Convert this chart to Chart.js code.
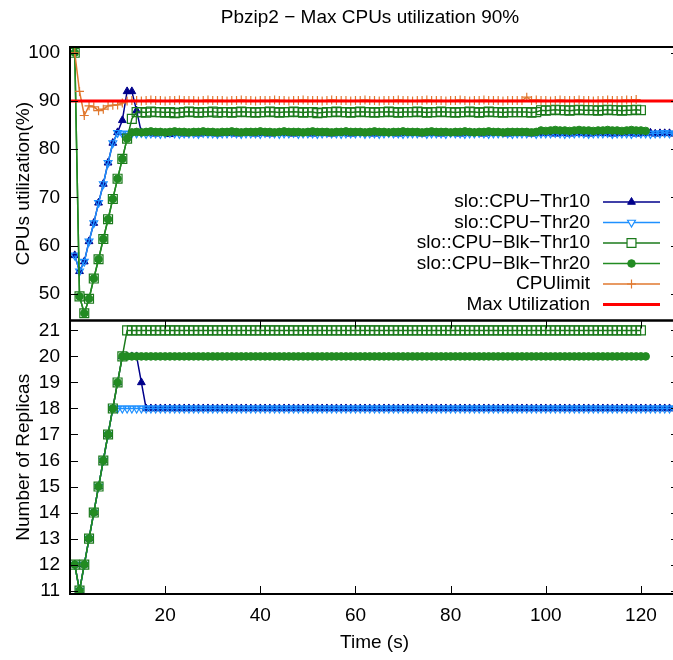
<!DOCTYPE html>
<html>
<head>
<meta charset="UTF-8">
<title>Pbzip2 - Max CPUs utilization 90%</title>
<script src="https://cdn.jsdelivr.net/npm/chart.js@4"></script>
<style>
  html, body { margin: 0; padding: 0; background: #fff; overflow: hidden; }
  #wrap { width: 690px; height: 660px; }
</style>
</head>
<body>
<div id="wrap"><canvas id="chart" width="690" height="660"></canvas></div>
<script>
// time axis (s)
const time = [
  1, 2, 3, 4, 5, 6, 7, 8, 9, 10, 11, 12, 13, 14, 15, 16, 17, 18, 19, 20,
  21, 22, 23, 24, 25, 26, 27, 28, 29, 30, 31, 32, 33, 34, 35, 36, 37, 38, 39, 40,
  41, 42, 43, 44, 45, 46, 47, 48, 49, 50, 51, 52, 53, 54, 55, 56, 57, 58, 59, 60,
  61, 62, 63, 64, 65, 66, 67, 68, 69, 70, 71, 72, 73, 74, 75, 76, 77, 78, 79, 80,
  81, 82, 83, 84, 85, 86, 87, 88, 89, 90, 91, 92, 93, 94, 95, 96, 97, 98, 99, 100,
  101, 102, 103, 104, 105, 106, 107, 108, 109, 110, 111, 112, 113, 114, 115, 116, 117, 118, 119, 120,
  121, 122, 123, 124, 125, 126, 127, 128
];
const timeRange = [0, 128];
const timeTicks = [20, 40, 60, 80, 100, 120];
const cpuRange = [44.5, 101.2];
const cpuTicks = [50, 60, 70, 80, 90, 100];
const repRange = [10.87, 21.38];
const repTicks = [11, 12, 13, 14, 15, 16, 17, 18, 19, 20, 21];
const maxUtilization = 90;

// top panel: CPUs utilization (%)
const cpuThr10 = [
  58, 54.7, 56.7, 60.9, 64.7, 68.9, 72.8, 77.2, 81.3, 83.5,
  86, 92, 92, 88, 83.5, 83.3,
  83.3, 83.2, 83.4, 83.3, 83.1, 83.3, 83.4, 83.2, 83.3, 83.3,
  83.2, 83.4, 83.3, 83.3, 83.2, 83.3, 83.4, 83.3, 83.2, 83.3,
  83.3, 83.4, 83.2, 83.3, 83.3, 83.2, 83.3, 83.4, 83.3, 83.3,
  83.2, 83.3, 83.3, 83.4, 83.2, 83.3, 83.3, 83.3, 83.2, 83.4,
  83.3, 83.3, 83.2, 83.3, 83.4, 83.3, 83.3, 83.2, 83.3, 83.3,
  83.4, 83.3, 83.2, 83.3, 83.3, 83.3, 83.4, 83.2, 83.3, 83.3,
  83.3, 83.2, 83.4, 83.3, 83.3, 83.2, 83.3, 83.3, 83.4, 83.3,
  83.2, 83.3, 83.3, 83.4, 83.3, 83.2, 83.3, 83.3, 83.3, 83.4,
  83.2, 83.3, 83.3, 83.3, 83.4, 83.2, 83.3, 83.3, 83.2, 83.4,
  83.3, 83.3, 83.2, 83.3, 83.4, 83.3, 83.3, 83.2, 83.3, 83.3,
  83.4, 83.3, 83.2, 83.3, 83.3, 83.4, 83.2, 83.3, 83.3, 83.3,
  83.2, 83.3
];
const cpuThr20 = [
  58, 54.7, 56.7, 60.9, 64.7, 68.9, 72.8, 77.2, 81.3, 83.4,
  83.3, 83.2, 83.3, 83.3, 83.4, 83.2, 83.3, 83.3, 83.2, 83.3,
  83.4, 83.3, 83.2, 83.3, 83.3, 83.3, 83.2, 83.4, 83.3, 83.3,
  83.2, 83.3, 83.3, 83.4, 83.3, 83.2, 83.3, 83.3, 83.3, 83.2,
  83.4, 83.3, 83.3, 83.2, 83.3, 83.3, 83.4, 83.2, 83.3, 83.3,
  83.3, 83.2, 83.3, 83.4, 83.3, 83.3, 83.2, 83.3, 83.3, 83.3,
  83.4, 83.2, 83.3, 83.3, 83.2, 83.3, 83.4, 83.3, 83.3, 83.2,
  83.3, 83.3, 83.3, 83.4, 83.2, 83.3, 83.3, 83.3, 83.2, 83.4,
  83.3, 83.3, 83.2, 83.3, 83.3, 83.4, 83.3, 83.2, 83.3, 83.3,
  83.4, 83.3, 83.2, 83.3, 83.3, 83.3, 83.4, 83.2, 83.3, 83.3,
  83.3, 83.4, 83.3, 83.2, 83.3, 83.3, 83.4, 83.3, 83.2, 83.3,
  83.3, 83.3, 83.4, 83.2, 83.3, 83.3, 83.3, 83.2, 83.4, 83.3,
  83.3, 83.2, 83.3, 83.3, 83.4, 83.3, 83.3, 83.2
];
const cpuBlkThr10 = [
  100, 49.5, 46, 49, 53.2, 57.2, 61.4, 65.5, 69.7, 73.9,
  78, 82.2, 86.3, 87.7,
  87.7, 87.6, 87.8, 87.7, 87.7, 87.6, 87.7, 87.5, 87.6, 87.7,
  87.8, 87.7, 87.6, 87.7, 87.7, 87.8, 87.6, 87.7, 87.7, 87.6,
  87.7, 87.8, 87.7, 87.7, 87.6, 87.7, 87.7, 87.8, 87.7, 87.6,
  87.7, 87.7, 87.8, 87.7, 87.6, 87.7, 87.7, 87.5, 87.6, 87.7,
  87.7, 87.8, 87.7, 87.7, 87.6, 87.7, 87.8, 87.7, 87.7, 87.6,
  87.7, 87.7, 87.8, 87.7, 87.6, 87.7, 87.7, 87.7, 87.8, 87.7,
  87.6, 87.7, 87.7, 87.8, 87.7, 87.7, 87.6, 87.7, 87.7, 87.8,
  87.7, 87.6, 87.7, 87.8, 87.7, 87.7, 87.6, 87.7, 87.7, 87.7,
  87.7, 87.7, 87.6, 87.7,
  88.1, 88.0, 88.1, 88.2, 88.1, 88.1, 88.0, 88.1, 88.2, 88.1,
  88.1, 88.1, 88.0, 88.1, 88.2, 88.1, 88.1, 88.0, 88.1, 88.1,
  88.2, 88.1
];
const cpuBlkThr20 = [
  100, 49.5, 46, 49, 53.2, 57.2, 61.4, 65.5, 69.7, 73.9,
  78, 82.2, 83.5,
  83.6, 83.5, 83.6, 83.7, 83.6, 83.6, 83.5, 83.6, 83.7, 83.6,
  83.6, 83.5, 83.6, 83.6, 83.7, 83.6, 83.6, 83.5, 83.6, 83.6,
  83.7, 83.6, 83.5, 83.6, 83.6, 83.6, 83.7, 83.6, 83.6, 83.5,
  83.6, 83.7, 83.6, 83.6, 83.6, 83.5, 83.6, 83.7, 83.6, 83.6,
  83.6, 83.5, 83.6, 83.6, 83.7, 83.6, 83.6, 83.6, 83.5, 83.6,
  83.7, 83.6, 83.6, 83.5, 83.6, 83.6, 83.7, 83.6, 83.6, 83.6,
  83.5, 83.6, 83.7, 83.6, 83.6, 83.6, 83.5, 83.6, 83.6, 83.7,
  83.6, 83.5, 83.6, 83.6, 83.7, 83.6, 83.6, 83.5, 83.6, 83.6,
  83.6, 83.6, 83.6, 83.5, 83.6,
  83.9, 83.8, 83.9, 84.0, 83.9, 83.9, 83.8, 83.9, 84.0, 83.9,
  83.9, 83.8, 83.9, 83.9, 84.0, 83.9, 83.9, 83.8, 83.9, 84.0,
  83.9, 83.9, 83.8
];
const cpuLimit = [
  100, 92, 87, 89, 88.8, 88, 88.3, 89, 89.1, 89.2,
  89.6, 90,
  90.1, 90.1, 90.0, 90.1, 90.2, 90.1, 90.1, 90.0, 90.1, 90.1,
  90.2, 90.1, 90.1, 90.1, 90.0, 90.1, 90.2, 90.1, 90.1, 90.1,
  90.0, 90.1, 90.1, 90.2, 90.1, 90.1, 90.0, 90.1, 90.1, 90.1,
  90.2, 90.1, 90.1, 90.0, 90.1, 90.1, 90.2, 90.1, 90.1, 90.1,
  90.0, 90.1, 90.2, 90.1, 90.1, 90.1, 90.0, 90.1, 90.1, 90.2,
  90.1, 90.1, 90.0, 90.1, 90.1, 90.1, 90.2, 90.1, 90.1, 90.0,
  90.1, 90.1, 90.2, 90.1, 90.1, 90.1, 90.0, 90.1, 90.1, 90.2,
  90.1, 90.0, 90.1, 90.1, 90.2, 90.1, 90.1, 90.1, 90.0, 90.1,
  90.1, 90.1, 90.1,
  90.8,
  90.1, 90.2, 90.1, 90.1, 90.0, 90.1, 90.2, 90.1, 90.1, 90.1,
  90.2, 90.1, 90.1, 90.0, 90.1, 90.1, 90.2, 90.1, 90.1, 90.1,
  90.2, 90.1, 90.3
];

// bottom panel: number of replicas
const repThr10 = [
  12, 11, 12, 13, 14, 15, 16, 17, 18, 19, 20, 20, 20, 20, 19,
  18, 18, 18, 18, 18, 18, 18, 18, 18, 18, 18, 18, 18, 18, 18, 18, 18, 18, 18, 18,
  18, 18, 18, 18, 18, 18, 18, 18, 18, 18, 18, 18, 18, 18, 18, 18, 18, 18, 18, 18,
  18, 18, 18, 18, 18, 18, 18, 18, 18, 18, 18, 18, 18, 18, 18, 18, 18, 18, 18, 18,
  18, 18, 18, 18, 18, 18, 18, 18, 18, 18, 18, 18, 18, 18, 18, 18, 18, 18, 18, 18,
  18, 18, 18, 18, 18, 18, 18, 18, 18, 18, 18, 18, 18, 18, 18, 18, 18, 18, 18, 18,
  18, 18, 18, 18, 18, 18, 18, 18, 18, 18, 18, 18, 18
];
const repThr20 = [
  12, 11, 12, 13, 14, 15, 16, 17, 18,
  18, 18, 18, 18, 18, 18, 18, 18, 18, 18, 18, 18, 18, 18, 18, 18, 18, 18, 18, 18,
  18, 18, 18, 18, 18, 18, 18, 18, 18, 18, 18, 18, 18, 18, 18, 18, 18, 18, 18, 18,
  18, 18, 18, 18, 18, 18, 18, 18, 18, 18, 18, 18, 18, 18, 18, 18, 18, 18, 18, 18,
  18, 18, 18, 18, 18, 18, 18, 18, 18, 18, 18, 18, 18, 18, 18, 18, 18, 18, 18, 18,
  18, 18, 18, 18, 18, 18, 18, 18, 18, 18, 18, 18, 18, 18, 18, 18, 18, 18, 18, 18,
  18, 18, 18, 18, 18, 18, 18, 18, 18, 18, 18, 18, 18, 18, 18, 18, 18, 18, 18
];
const repBlkThr10 = [
  12, 11, 12, 13, 14, 15, 16, 17, 18, 19, 20,
  21, 21, 21, 21, 21, 21, 21, 21, 21, 21, 21, 21, 21, 21, 21, 21, 21, 21, 21, 21,
  21, 21, 21, 21, 21, 21, 21, 21, 21, 21, 21, 21, 21, 21, 21, 21, 21, 21, 21, 21,
  21, 21, 21, 21, 21, 21, 21, 21, 21, 21, 21, 21, 21, 21, 21, 21, 21, 21, 21, 21,
  21, 21, 21, 21, 21, 21, 21, 21, 21, 21, 21, 21, 21, 21, 21, 21, 21, 21, 21, 21,
  21, 21, 21, 21, 21, 21, 21, 21, 21, 21, 21, 21, 21, 21, 21, 21, 21, 21, 21, 21,
  21, 21, 21, 21, 21, 21, 21, 21, 21
];
const repBlkThr20 = [
  12, 11, 12, 13, 14, 15, 16, 17, 18, 19,
  20, 20, 20, 20, 20, 20, 20, 20, 20, 20, 20, 20, 20, 20, 20, 20, 20, 20, 20, 20,
  20, 20, 20, 20, 20, 20, 20, 20, 20, 20, 20, 20, 20, 20, 20, 20, 20, 20, 20, 20,
  20, 20, 20, 20, 20, 20, 20, 20, 20, 20, 20, 20, 20, 20, 20, 20, 20, 20, 20, 20,
  20, 20, 20, 20, 20, 20, 20, 20, 20, 20, 20, 20, 20, 20, 20, 20, 20, 20, 20, 20,
  20, 20, 20, 20, 20, 20, 20, 20, 20, 20, 20, 20, 20, 20, 20, 20, 20, 20, 20, 20,
  20, 20, 20, 20, 20, 20, 20, 20, 20, 20, 20
];

const FONT = '"Liberation Sans", Arial, Helvetica, sans-serif';
Chart.defaults.font.family = FONT;
Chart.defaults.font.size = 19;
Chart.defaults.color = '#000';

const DARKBLUE = '#00008b';
const LIGHTBLUE = '#1e90ff';
const GREEN1 = '#1b7a1b';
const GREEN2 = '#228b22';
const ORANGE = '#e0782f';
const RED = '#ff0000';
const NONE = 'rgba(0,0,0,0)';

// one style per series, used on both panels
const styles = [
  { label: 'slo::CPU\u2212Thr10', borderColor: DARKBLUE, borderWidth: 1.5, pointStyle: 'triangle', pointRadius: 4.5, pointBackgroundColor: DARKBLUE, pointBorderColor: DARKBLUE, pointBorderWidth: 1, order: 6 },
  { label: 'slo::CPU\u2212Thr20', borderColor: LIGHTBLUE, borderWidth: 1.5, pointStyle: 'triangle', pointRotation: 180, pointRadius: 4.5, pointBackgroundColor: NONE, pointBorderColor: LIGHTBLUE, pointBorderWidth: 1.2, order: 5 },
  { label: 'slo::CPU\u2212Blk\u2212Thr10', borderColor: GREEN1, borderWidth: 1.5, pointStyle: 'rect', pointRadius: 6.3, pointBackgroundColor: NONE, pointBorderColor: GREEN1, pointBorderWidth: 1.2, order: 4 },
  { label: 'slo::CPU\u2212Blk\u2212Thr20', borderColor: GREEN2, borderWidth: 1.5, pointStyle: 'circle', pointRadius: 3.8, pointBackgroundColor: GREEN2, pointBorderColor: GREEN2, pointBorderWidth: 1, order: 3 },
  { label: 'CPUlimit', borderColor: ORANGE, borderWidth: 1.5, pointStyle: 'cross', pointRadius: 4.5, pointBackgroundColor: ORANGE, pointBorderColor: ORANGE, pointBorderWidth: 1.2, order: 2 },
  { label: 'Max Utilization', borderColor: RED, borderWidth: 3, pointRadius: 0, order: 1 }
];

const cpuSeries = [cpuThr10, cpuThr20, cpuBlkThr10, cpuBlkThr20, cpuLimit];
const repSeries = [repThr10, repThr20, repBlkThr10, repBlkThr20];

const datasets = [];
cpuSeries.forEach((vals, i) => {
  datasets.push(Object.assign({}, styles[i], { data: vals, yAxisID: 'yCpu', tension: 0, fill: false }));
});
datasets.push(Object.assign({}, styles[5], {
  data: [{ x: timeRange[0], y: maxUtilization }, { x: timeRange[1], y: maxUtilization }],
  yAxisID: 'yCpu', tension: 0, fill: false
}));
repSeries.forEach((vals, i) => {
  datasets.push(Object.assign({}, styles[i], { data: vals, yAxisID: 'yRep', tension: 0, fill: false }));
});

const frames = {
  id: 'frames',
  afterDatasetsDraw(chart) {
    const { ctx, scales: { x, yCpu, yRep } } = chart;
    const tick = 8;
    ctx.save();
    ctx.strokeStyle = '#000';
    ctx.lineWidth = 1;
    ctx.beginPath();
    [[yCpu, cpuTicks], [yRep, repTicks]].forEach(([s, list]) => {
      list.forEach(v => {
        const py = Math.round(s.getPixelForValue(v)) + 0.5;
        ctx.moveTo(x.left, py); ctx.lineTo(x.left + tick, py);
        ctx.moveTo(x.right, py); ctx.lineTo(x.right - tick, py);
      });
    });
    timeTicks.forEach(v => {
      const px = Math.round(x.getPixelForValue(v)) + 0.5;
      ctx.moveTo(px, yRep.bottom); ctx.lineTo(px, yRep.bottom - tick);
      ctx.moveTo(px, yRep.top); ctx.lineTo(px, yRep.top + tick);
    });
    ctx.stroke();
    ctx.lineWidth = 2;
    ctx.strokeRect(x.left, yCpu.top, x.right - x.left, yCpu.bottom - yCpu.top);
    ctx.strokeRect(x.left, yRep.top, x.right - x.left, yRep.bottom - yRep.top);
    ctx.restore();
  },
  afterDraw(chart) {
    const { ctx, scales: { x } } = chart;
    ctx.save();
    // title
    ctx.fillStyle = '#000';
    ctx.font = '19px ' + FONT;
    ctx.textAlign = 'center';
    ctx.textBaseline = 'middle';
    ctx.fillText('Pbzip2 \u2212 Max CPUs utilization 90%', 370, 18);
    // key
    const textRight = x.right - 89;
    const lineL = x.right - 76, lineR = x.right - 19;
    chart.data.datasets.slice(0, 6).forEach((ds, i) => {
      const y = 202 + i * 20.5;
      ctx.fillStyle = '#000';
      ctx.textAlign = 'right';
      ctx.fillText(ds.label, textRight, y);
      ctx.strokeStyle = ds.borderColor;
      ctx.lineWidth = ds.borderWidth;
      ctx.beginPath();
      ctx.moveTo(lineL, y); ctx.lineTo(lineR, y);
      ctx.stroke();
      if (ds.pointRadius > 0) {
        ctx.fillStyle = ds.pointBackgroundColor === NONE ? '#fff' : ds.pointBackgroundColor;
        ctx.strokeStyle = ds.pointBorderColor;
        ctx.lineWidth = ds.pointBorderWidth;
        Chart.helpers.drawPoint(ctx, {
          pointStyle: ds.pointStyle, rotation: ds.pointRotation || 0,
          radius: ds.pointRadius, borderWidth: ds.pointBorderWidth
        }, (lineL + lineR) / 2, y);
      }
    });
    ctx.restore();
  }
};

const setTicks = list => scale => { scale.ticks = list.map(v => ({ value: v })); };

new Chart(document.getElementById('chart'), {
  type: 'line',
  data: { labels: time, datasets: datasets },
  options: {
    responsive: false,
    animation: false,
    layout: { padding: { top: 47, right: 11, left: 0, bottom: 0 } },
    plugins: { legend: { display: false }, tooltip: { enabled: false }, title: { display: false } },
    scales: {
      x: {
        type: 'linear', min: timeRange[0], max: timeRange[1],
        afterBuildTicks: setTicks(timeTicks),
        afterFit: s => { s.height = 66; },
        grid: { display: false, drawTicks: false }, border: { display: false },
        ticks: { padding: 10, maxRotation: 0, autoSkip: false },
        title: { display: true, text: 'Time (s)', padding: { top: 0, bottom: 6 } }
      },
      yRep: {
        type: 'linear', position: 'left', stack: 'panels', stackWeight: 1, weight: 0,
        min: repRange[0], max: repRange[1],
        afterBuildTicks: setTicks(repTicks),
        afterFit: s => { s.width = 70; },
        grid: { display: false, drawTicks: false }, border: { display: false },
        ticks: { padding: 10, autoSkip: false },
        title: { display: true, text: 'Number of Replicas', padding: { top: 12, bottom: 0 } }
      },
      yCpu: {
        type: 'linear', position: 'left', stack: 'panels', stackWeight: 1, weight: 1,
        min: cpuRange[0], max: cpuRange[1],
        afterBuildTicks: setTicks(cpuTicks),
        afterFit: s => { s.width = 70; },
        grid: { display: false, drawTicks: false }, border: { display: false },
        ticks: { padding: 10, autoSkip: false },
        title: { display: true, text: 'CPUs utilization(%)', padding: { top: 12, bottom: 0 } }
      }
    }
  },
  plugins: [frames]
});
</script>
</body>
</html>
